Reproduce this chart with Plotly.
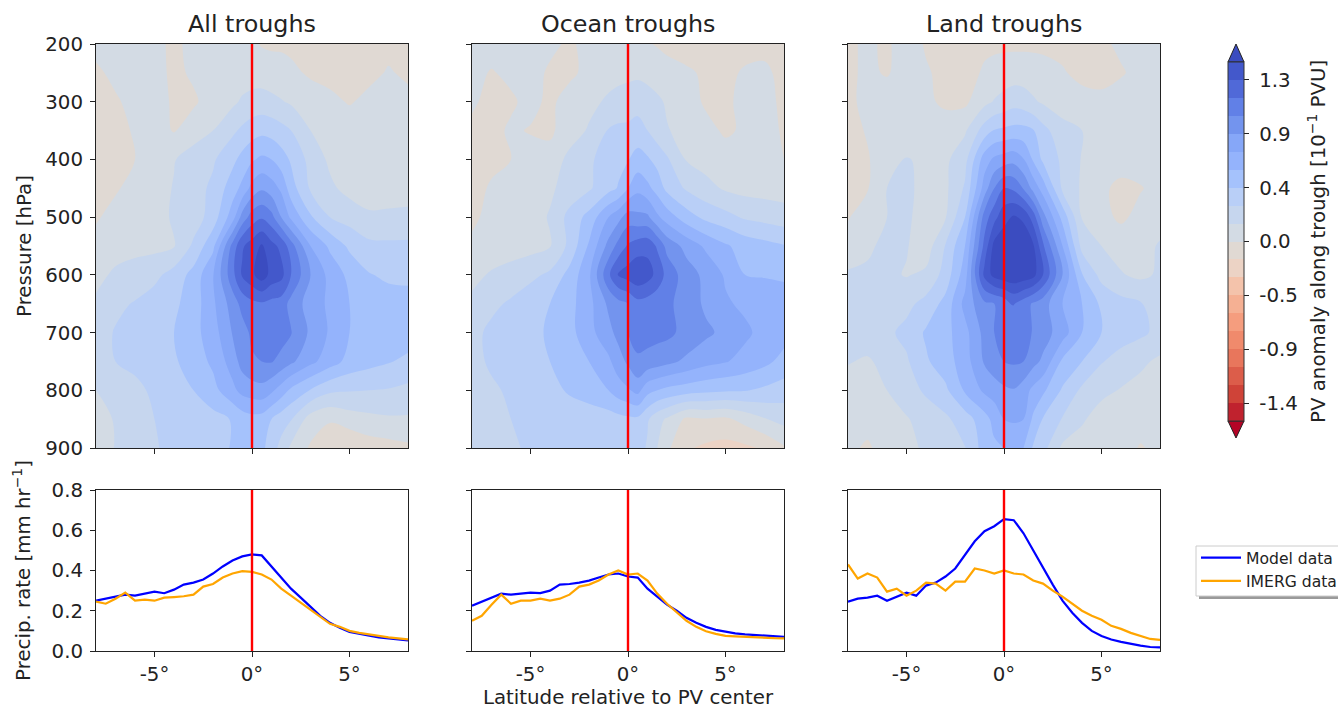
import plotly.graph_objects as go

LAT = [-8,-7,-6,-5,-4,-3,-2,-1,-.5,0,.5,1,1.5,2,3,4,5,6,7,8]
PRESSURE = [200,250,300,350,400,450,500,550,600,650,700,750,800,850,900]

PV_ALL = [
[.05,.05,.05,.04,-.03,.04,.05,.04,.03,.02,-.01,-.02,-.02,-.03,-.03,-.04,-.04,-.03,-.03,-.03],
[-.03,.04,.06,.05,-.03,.02,.06,.08,.08,.08,.08,.06,.05,.03,-.02,-.04,-.04,-.03,.01,-.02],
[-.02,-.02,.05,.06,-.02,-.02,.06,.12,.17,.2,.21,.19,.16,.13,.07,.03,-.01,.03,.04,.03],
[-.03,-.03,.01,.06,-.01,.07,.15,.27,.33,.38,.41,.39,.35,.3,.15,.08,.07,.06,.05,.05],
[-.03,-.02,.0,.08,.14,.23,.28,.41,.5,.58,.63,.6,.52,.43,.25,.12,.08,.07,.06,.06],
[-.03,-.01,.03,.08,.16,.24,.33,.53,.64,.8,.88,.82,.72,.52,.28,.18,.1,.09,.08,.08],
[-.01,.03,.07,.09,.17,.22,.37,.68,.96,1.12,1.18,1.1,.9,.72,.47,.3,.24,.17,.18,.19],
[.03,.08,.1,.11,.14,.33,.56,1.1,1.33,1.42,1.52,1.4,1.31,1.12,.75,.57,.42,.34,.33,.33],
[.1,.18,.22,.26,.36,.5,.74,1.15,1.37,1.47,1.58,1.45,1.4,1.2,.9,.7,.56,.46,.42,.42],
[.18,.27,.31,.37,.42,.52,.72,.97,1.1,1.16,1.18,1.15,1.13,1.0,.83,.72,.6,.55,.52,.5],
[.24,.31,.37,.41,.45,.55,.68,.91,.99,1.08,1.12,1.13,1.12,1.06,.87,.73,.6,.55,.53,.52],
[.22,.3,.34,.38,.43,.52,.63,.82,.96,1.03,1.05,1.06,1.0,.93,.79,.67,.55,.5,.46,.42],
[.15,.2,.26,.33,.38,.45,.55,.71,.8,.83,.85,.78,.68,.57,.44,.33,.31,.3,.29,.26],
[.1,.16,.25,.3,.33,.36,.4,.46,.52,.55,.54,.45,.37,.31,.08,.02,.08,.11,.13,.13],
[.03,.16,.24,.29,.33,.36,.4,.46,.52,.52,.49,.37,.25,.12,-.02,-.13,-.15,-.08,-.06,-.03],
]

PV_OCEAN = [
[.1,.06,.05,.04,.03,-.02,.04,.05,.04,.03,.02,.01,-.01,-.02,-.03,-.03,-.04,-.03,-.03,-.03],
[.04,-.01,.03,.05,-.02,-.03,.04,.08,.1,.11,.12,.1,.07,.03,.01,-.01,-.02,.01,.02,-.03],
[.02,-.04,-.02,.04,-.03,.06,.1,.18,.21,.23,.24,.22,.18,.13,.06,-.02,-.02,.03,.03,-.02],
[-.03,-.04,.02,-.01,-.02,.06,.17,.31,.33,.33,.36,.3,.22,.16,.1,.04,-.02,.02,.03,-.01],
[-.03,-.02,.0,.06,.04,.2,.27,.38,.41,.44,.51,.47,.4,.32,.14,.09,.06,.05,.04,.0],
[-.03,.01,.04,.07,.13,.2,.28,.4,.46,.6,.71,.64,.54,.41,.28,.2,.13,.1,.09,.08],
[-.02,.03,.07,.1,.16,.35,.5,.75,.85,.97,.94,.93,.78,.68,.52,.41,.35,.28,.25,.22],
[.02,.05,.07,.1,.14,.34,.62,.95,1.1,1.22,1.28,1.3,1.18,1.0,.85,.72,.62,.54,.5,.46],
[.1,.17,.22,.26,.33,.5,.72,1.17,1.36,1.42,1.47,1.42,1.3,1.15,.97,.86,.73,.6,.59,.58],
[.19,.27,.32,.4,.45,.55,.7,.93,1.0,1.05,1.15,1.13,1.1,1.08,.99,.87,.77,.72,.68,.66],
[.26,.33,.38,.43,.46,.55,.7,.85,.95,1.05,1.1,1.11,1.1,1.09,1.0,.93,.86,.78,.7,.66],
[.26,.32,.36,.41,.45,.52,.6,.72,.83,.93,1.03,1.0,.97,.94,.87,.8,.76,.7,.64,.55],
[.22,.28,.32,.36,.4,.47,.52,.6,.68,.73,.8,.65,.6,.56,.52,.49,.47,.46,.42,.38],
[.19,.25,.3,.33,.35,.36,.37,.38,.4,.42,.42,.32,.2,.13,-.03,-.01,-.03,.05,.14,.2],
[.19,.24,.28,.32,.34,.35,.35,.36,.37,.38,.37,.28,.15,.03,-.13,-.18,-.2,-.18,-.13,-.02],
]

PV_LAND = [
[-.03,.03,-.03,.1,-.02,-.04,-.04,-.03,-.03,-.03,-.03,-.03,-.03,-.03,-.03,-.03,-.02,.02,.03,.03],
[-.02,.02,-.01,.05,.02,-.05,-.06,.02,.05,.07,.08,.08,.07,.05,.01,-.03,-.04,-.01,.03,.04],
[-.04,.05,.06,.05,.03,-.03,-.03,.11,.16,.2,.24,.22,.17,.13,.08,.04,.03,.05,.06,.08],
[-.04,.01,.06,.07,.13,.08,.13,.37,.46,.48,.5,.5,.46,.35,.2,.15,.08,.07,.06,.06],
[-.04,-.01,.07,.16,.12,.12,.25,.68,.78,.82,.85,.76,.58,.42,.27,.14,.07,.07,.07,.07],
[-.04,-.01,.15,.17,.12,.12,.32,.82,1.05,1.2,1.17,1.04,.85,.68,.27,.13,.03,-.04,-.01,.05],
[-.01,.08,.15,.17,.1,.14,.45,1.12,1.3,1.45,1.52,1.47,1.28,.96,.55,.14,.05,-.03,.05,.07],
[.06,.13,.18,.16,.07,.31,.6,1.25,1.55,1.6,1.65,1.62,1.52,1.23,.75,.25,.15,.1,.08,.17],
[.17,.17,.18,.14,.18,.36,.68,1.4,1.55,1.6,1.62,1.6,1.55,1.35,.9,.46,.25,.16,.12,.17],
[.2,.2,.22,.26,.35,.5,.8,1.02,1.05,1.1,1.21,1.12,1.03,.97,.75,.6,.42,.35,.31,.24],
[.22,.24,.27,.34,.47,.55,.7,.95,1.05,1.12,1.13,1.1,1.04,.97,.82,.6,.45,.37,.33,.26],
[.16,.13,.2,.28,.43,.53,.68,.92,1.0,1.05,1.07,1.05,.95,.87,.57,.45,.31,.24,.18,.12],
[.08,.1,.15,.22,.33,.42,.62,.78,.82,.87,.89,.82,.71,.63,.43,.27,.19,.14,.1,.07],
[.03,.05,.08,.14,.2,.27,.38,.54,.65,.75,.77,.75,.57,.44,.29,.17,.08,.05,.05,.04],
[.03,-.02,.06,.1,.18,.25,.29,.52,.57,.6,.62,.6,.43,.35,.12,.08,.06,.05,-.01,.03],
]

LAT_LINE = [-8,-7.5,-7,-6.5,-6,-5.5,-5,-4.5,-4,-3.5,-3,-2.5,-2,-1.5,-1,-.5,0,.5,1,1.5,2,2.5,3,3.5,4,4.5,5,5.5,6,6.5,7,7.5,8]
MODEL_ALL = [.25,.26,.27,.28,.275,.285,.295,.287,.305,.33,.34,.355,.385,.42,.45,.47,.48,.475,.42,.365,.31,.265,.22,.175,.14,.115,.095,.085,.075,.068,.062,.057,.053]
IMERG_ALL = [.245,.235,.26,.29,.25,.255,.25,.265,.268,.272,.28,.32,.333,.365,.385,.397,.393,.38,.355,.31,.275,.24,.205,.17,.135,.12,.10,.09,.082,.075,.068,.063,.058]
MODEL_OCEAN = [.225,.245,.265,.285,.28,.285,.29,.288,.30,.33,.333,.34,.35,.365,.38,.385,.37,.365,.31,.27,.23,.2,.165,.14,.12,.105,.095,.088,.083,.08,.075,.072,.07]
IMERG_OCEAN = [.15,.175,.23,.28,.235,.25,.25,.26,.25,.26,.28,.32,.33,.35,.38,.40,.38,.385,.35,.285,.235,.19,.15,.12,.098,.085,.075,.073,.07,.067,.065,.064,.063]
MODEL_LAND = [.245,.26,.265,.275,.25,.27,.29,.275,.325,.34,.37,.41,.48,.545,.595,.62,.655,.65,.585,.5,.41,.33,.25,.19,.14,.10,.075,.057,.045,.035,.027,.02,.018]
IMERG_LAND = [.43,.36,.385,.365,.295,.31,.275,.30,.34,.335,.30,.345,.345,.41,.40,.385,.40,.385,.38,.35,.335,.30,.27,.235,.20,.175,.155,.125,.11,.09,.075,.06,.055]

PANEL_TITLES = ["All troughs", "Ocean troughs", "Land troughs"]
X_TICKS = [-5, 0, 5]
X_LABELS = ["-5°", "0°", "5°"]
P_TICKS = [200,300,400,500,600,700,800,900]
RATE_TICKS = [0.0,0.2,0.4,0.6,0.8]
RATE_LABELS = ["0.0","0.2","0.4","0.6","0.8"]
CB_TICKS = [-1.35,-.9,-.45,0,.45,.9,1.35]
CB_LABELS = ["-1.4","-0.9","-0.5","0.0","0.4","0.9","1.3"]

# low to high
BAND_COLORS = ["#c0222e","#cf4338","#dc5d4a","#e8765c","#f08a6c","#f59d7e","#f5b093","#f4c3ab","#ecd3c5","#e0d9d3",
               "#d3dbe4","#c6d6ee","#b9cff7","#a5c2fc","#94b3fc","#86a7f8","#7394ee","#6180e7","#5069d8","#4358cb"]
LOW_EXT, HIGH_EXT = "#b40426", "#3b4cc0"

W, H = 1338, 709
def px(x): return x / W
def py(y): return 1 - y / H

def stepped(colors):
    n = len(colors); out = []
    for i, c in enumerate(colors):
        out += [[i / n, c], [(i + 1) / n, c]]
    return out

TXT = "#222222"
FS = 19.8
fig = go.Figure()

# carries the colour bar; fully covered by the panel-1 field drawn after it
fig.add_trace(go.Contour(x=LAT, y=PRESSURE, z=PV_ALL, xaxis="x", yaxis="y",
    autocontour=False, contours=dict(start=-1.5, end=1.5, size=.15, coloring="fill"),
    line=dict(width=0), zmin=-1.5, zmax=1.5, colorscale=stepped(BAND_COLORS), hoverinfo="skip",
    showscale=True,
    colorbar=dict(x=px(1228), xanchor="left", xpad=0, y=py(241.5), yanchor="middle", ypad=0,
                  len=359/H, lenmode="fraction", thickness=16, thicknessmode="pixels",
                  outlinewidth=1, outlinecolor="#333333", ticks="outside", ticklen=5, tickwidth=1,
                  tickcolor="#222222", tickvals=CB_TICKS, ticktext=["\u00a0" + s for s in CB_LABELS],
                  tickfont=dict(family="DejaVu Sans", size=FS, color=TXT))))

fields = [PV_ALL, PV_OCEAN, PV_LAND]
models = [MODEL_ALL, MODEL_OCEAN, MODEL_LAND]
imergs = [IMERG_ALL, IMERG_OCEAN, IMERG_LAND]
lefts = [96, 472, 848]
layout_axes = {}
annots = []
for i in range(3):
    t = i * 2 + 1; b = i * 2 + 2
    xt, yt = f"x{t if t > 1 else ''}", f"y{t if t > 1 else ''}"
    xb, yb = f"x{b}", f"y{b}"
    fig.add_trace(go.Contour(x=LAT, y=PRESSURE, z=fields[i], xaxis=xt, yaxis=yt,
        autocontour=False, contours=dict(start=-1.65, end=1.65, size=.15, coloring="fill"),
        line=dict(width=0), zmin=-1.65, zmax=1.65,
        colorscale=stepped([LOW_EXT] + BAND_COLORS + [HIGH_EXT]), showscale=False, hoverinfo="skip"))
    fig.add_trace(go.Scatter(x=[0, 0], y=[PRESSURE[0], PRESSURE[-1]], xaxis=xt, yaxis=yt, mode="lines",
        line=dict(color="#ff0000", width=2.4), showlegend=False, hoverinfo="skip"))
    fig.add_trace(go.Scatter(x=LAT_LINE, y=models[i], xaxis=xb, yaxis=yb, mode="lines", name="Model data",
        line=dict(color="#0000ff", width=2.2), showlegend=i == 0))
    fig.add_trace(go.Scatter(x=LAT_LINE, y=imergs[i], xaxis=xb, yaxis=yb, mode="lines", name="IMERG data",
        line=dict(color="#ffa500", width=2.2), showlegend=i == 0))
    fig.add_trace(go.Scatter(x=[0, 0], y=[RATE_TICKS[0], RATE_TICKS[-1]], xaxis=xb, yaxis=yb, mode="lines",
        line=dict(color="#ff0000", width=2.4), showlegend=False, hoverinfo="skip"))

    common = dict(showline=True, mirror=True, linecolor="#222222", linewidth=1, ticks="outside", ticklen=5,
                  tickwidth=1, tickcolor="#222222", showgrid=False, zeroline=False,
                  tickfont=dict(family="DejaVu Sans", size=FS, color=TXT))
    dom = [px(lefts[i]), px(lefts[i] + 312)]
    layout_axes["xaxis" + (str(t) if t > 1 else "")] = dict(common, domain=dom, range=[-8, 8], tickvals=X_TICKS,
        ticktext=X_LABELS, showticklabels=False, anchor=yt)
    layout_axes["yaxis" + (str(t) if t > 1 else "")] = dict(common, domain=[py(448), py(44)], range=[900, 200],
        tickvals=P_TICKS, showticklabels=i == 0, anchor=xt, ticklabelstandoff=3,
        **({"title": dict(text="Pressure [hPa]", standoff=8, font=dict(family="DejaVu Sans", size=FS, color=TXT))} if i == 0 else {}))
    layout_axes[f"xaxis{b}"] = dict(common, domain=dom, range=[-8, 8], tickvals=X_TICKS, ticktext=X_LABELS, anchor=yb,
        **({"title": dict(text="Latitude relative to PV center", standoff=12, font=dict(family="DejaVu Sans", size=FS, color=TXT))} if i == 1 else {}))
    layout_axes[f"yaxis{b}"] = dict(common, domain=[py(651), py(490)], range=[0, 0.8], tickvals=RATE_TICKS,
        ticktext=RATE_LABELS, showticklabels=i == 0, anchor=xb, ticklabelstandoff=3,
        **({"title": dict(text="Precip. rate [mm hr<sup>−1</sup>]", standoff=15, font=dict(family="DejaVu Sans", size=FS, color=TXT))} if i == 0 else {}))
    annots.append(dict(text=PANEL_TITLES[i], xref="paper", yref="paper", x=px(lefts[i] + 156), y=py(40),
                       xanchor="center", yanchor="bottom", showarrow=False,
                       font=dict(family="DejaVu Sans", size=23.8, color=TXT)))

annots.append(dict(text="PV anomaly along trough [10<sup>−1</sup> PVU]", xref="paper", yref="paper",
                   x=px(1317), y=py(242), textangle=-90, xanchor="center", yanchor="middle", showarrow=False,
                   font=dict(family="DejaVu Sans", size=FS, color=TXT)))

def tri(pts, fill):
    path = "M " + " L ".join(f"{px(a):.5f},{py(b):.5f}" for a, b in pts) + " Z"
    return dict(type="path", xref="paper", yref="paper", path=path, fillcolor=fill,
                line=dict(color="#222222", width=1), layer="above")

shapes = [
    tri([(1228, 62), (1236, 44), (1244, 62)], HIGH_EXT),
    tri([(1228, 421), (1236, 438), (1244, 421)], LOW_EXT),
    # legend frame and its drop shadow
    dict(type="rect", xref="paper", yref="paper", x0=px(1199), x1=px(1360), y0=py(599), y1=py(552),
         fillcolor="#9a9a9a", line=dict(width=0), layer="below"),
    dict(type="rect", xref="paper", yref="paper", x0=px(1196), x1=px(1360), y0=py(596), y1=py(546),
         fillcolor="white", line=dict(color="#cccccc", width=1), layer="below"),
]

fig.update_layout(width=W, height=H, margin=dict(l=0, r=0, t=0, b=0, autoexpand=False),
    paper_bgcolor="white", plot_bgcolor="white", annotations=annots, shapes=shapes,
    font=dict(family="DejaVu Sans", color=TXT),
    legend=dict(x=px(1196), xanchor="left", y=py(541), yanchor="top", bgcolor="rgba(0,0,0,0)", borderwidth=0,
                font=dict(family="DejaVu Sans", size=15.6, color=TXT), itemwidth=40, tracegroupgap=0),
    **layout_axes)

fig.write_html("out.html", config=dict(displayModeBar=False),
               post_script="document.body.style.margin='0';document.body.style.overflow='hidden';")
